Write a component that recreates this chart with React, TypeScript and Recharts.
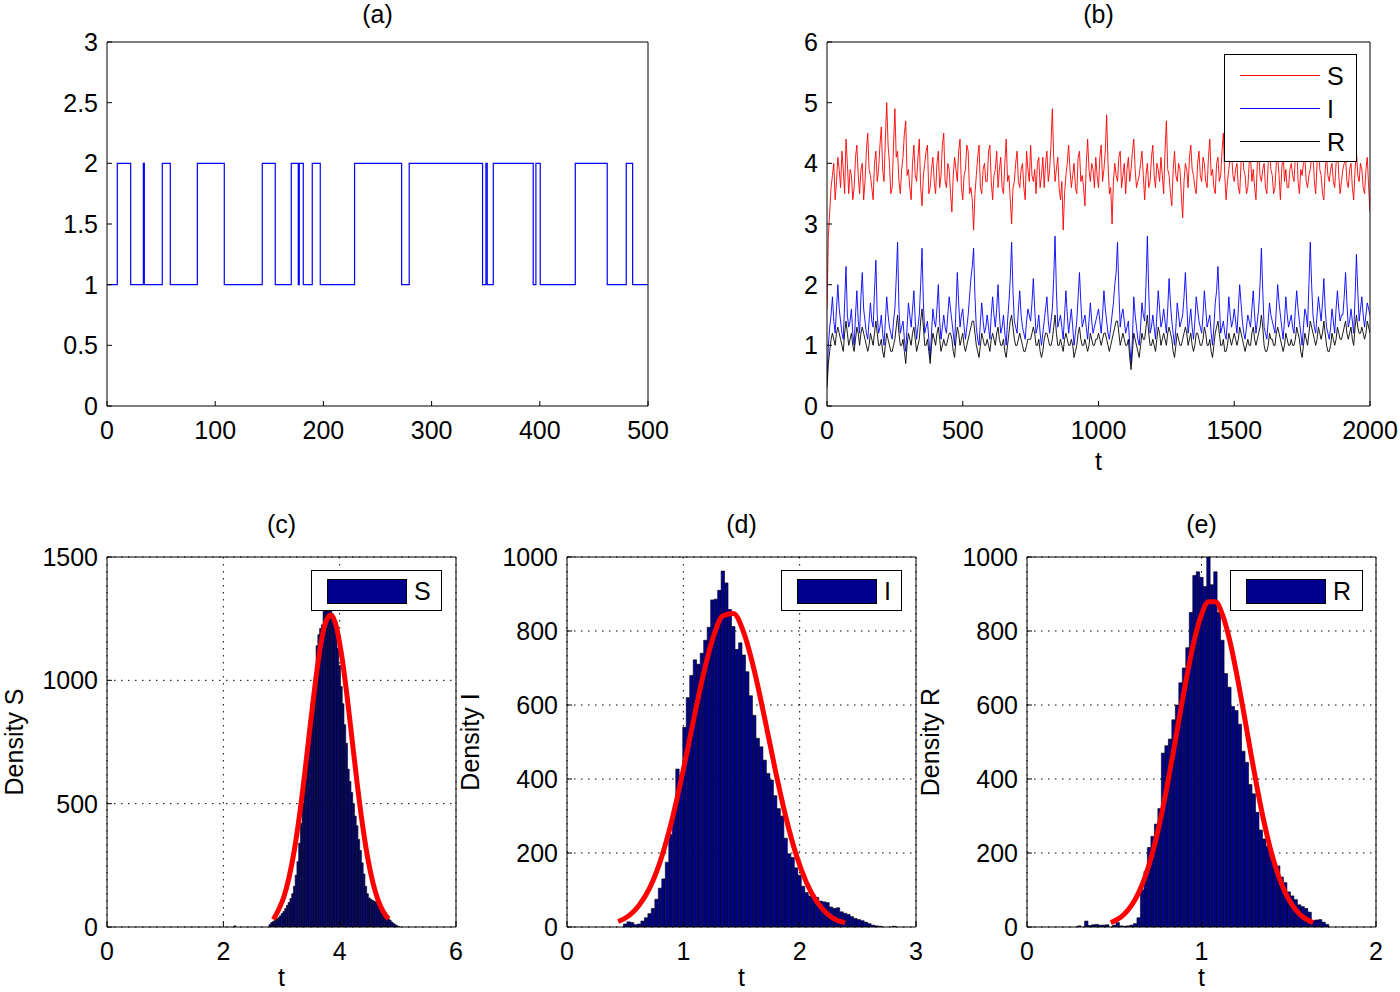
import React from 'react';
import { ComposedChart, LineChart, Line, Bar, XAxis, YAxis, CartesianGrid, Legend } from 'recharts';

const FONT = '"Liberation Sans", Arial, Helvetica, sans-serif';
const RED = '#ff0000';
const BLUE = '#0000ff';
const HIST_FILL = '#00008f';

// (a) regime switching path
const switchTimes = [0, 9.5, 21.9, 33.6, 34.5, 51.1, 58.5, 83.5, 108.4, 143.5, 155.5, 170.3, 176.8, 177.7, 181.4, 189.7,
  197.1, 228.8, 272.3, 279.3, 347.1, 350.2, 351.4, 357.0, 393.9, 396.4, 400.4, 432.8, 462.3, 479.9, 485.8, 500];
const switchStates = [1, 2, 1, 2, 1, 2, 1, 2, 1, 2, 1, 2, 1, 2, 1, 2, 1, 2, 1, 2, 1, 2, 1, 2, 1, 2, 1, 2, 1, 2, 1, 1];
const switchXTicks = [0, 100, 200, 300, 400, 500];
const switchYTicks = [0, 0.5, 1, 1.5, 2, 2.5, 3];

// (b) S, I, R: values at t = 0, 10, ..., 2000 and in-between values at t = 5, 15, ..., 1995
const simStep = 10;
const sPath = [
  1.6, 3.2, 3.8, 3.4, 4.1, 3.6, 3.9, 4.4, 3.5, 3.8, 3.6, 4.3, 3.5, 4.0, 3.7, 4.5, 3.8, 3.4, 4.2, 3.9,
  4.6, 3.7, 5.0, 4.0, 3.6, 4.9, 4.2, 3.5, 4.1, 4.7, 3.9, 3.4, 4.3, 3.7, 4.4, 3.3, 4.0, 4.3, 3.6, 4.1,
  3.5, 4.2, 3.8, 4.5, 3.6, 3.9, 3.2, 4.1, 3.7, 4.4, 3.4, 3.9, 4.2, 3.6, 2.9, 3.8, 4.3, 3.5, 4.0, 3.7,
  4.3, 3.4, 3.9, 3.6, 4.1, 3.5, 4.4, 3.8, 3.0, 3.7, 4.2, 3.6, 4.0, 3.4, 3.9, 4.3, 3.7, 3.5, 4.1, 3.8,
  3.6, 4.2, 3.9, 4.9, 3.7, 4.1, 3.4, 2.9, 3.8, 4.3, 3.6, 4.0, 3.5, 4.2, 3.8, 3.3, 4.4, 3.7, 3.9, 4.1,
  3.6, 4.3, 3.9, 4.8, 3.5, 3.0, 4.0, 3.7, 4.2, 3.8, 3.5, 4.1, 3.9, 4.4, 3.6, 3.8, 4.2, 3.4, 4.0, 3.7,
  4.3, 3.6, 3.9, 4.1, 3.5, 4.7, 3.8, 3.3, 4.2, 3.7, 3.9, 3.1, 4.0, 3.6, 4.3, 3.8, 3.5, 4.2, 3.7, 4.0,
  3.6, 4.4, 3.9, 3.5, 4.1, 3.8, 4.5, 3.4, 3.9, 4.2, 3.7, 4.0, 3.5, 4.3, 3.8, 3.6, 4.1, 3.9, 3.4, 4.2,
  3.7, 4.0, 3.5, 4.3, 3.8, 3.6, 4.1, 3.4, 4.2, 3.9, 3.6, 4.0, 3.7, 4.4, 3.5, 3.8, 4.1, 3.6, 3.9, 4.2,
  3.5, 4.6, 3.8, 3.4, 4.1, 3.7, 4.0, 3.6, 4.3, 3.5, 3.9, 4.1, 3.6, 4.0, 3.4, 4.2, 3.7, 3.9, 3.5, 4.1,
  3.2,
];
const sMid = [
  2.8, 3.6, 4.0, 3.7, 3.9, 4.2, 3.5, 4.0, 3.9, 3.4, 4.1, 3.8, 3.9, 3.4, 4.2, 3.9, 3.6, 4.0, 3.7, 4.3,
  3.9, 4.4, 4.3, 3.5, 4.3, 4.1, 3.7, 3.9, 4.5, 3.8, 3.6, 4.0, 3.8, 4.1, 3.6, 3.8, 4.2, 3.5, 3.9, 3.7,
  4.0, 3.6, 4.3, 3.7, 4.0, 3.5, 3.8, 3.9, 4.2, 3.6, 3.8, 4.3, 3.5, 3.4, 3.5, 4.1, 3.6, 3.9, 3.7, 4.2,
  3.7, 3.8, 4.2, 3.9, 3.6, 4.0, 3.7, 3.4, 3.6, 4.0, 3.7, 3.9, 3.6, 4.2, 3.7, 3.8, 3.9, 4.0, 3.6, 4.1,
  4.0, 3.7, 4.3, 4.1, 3.9, 3.6, 3.7, 3.5, 4.0, 3.9, 3.8, 3.6, 4.1, 3.7, 3.6, 4.0, 3.9, 4.0, 3.6, 3.8,
  4.1, 3.7, 4.2, 4.0, 3.6, 3.7, 3.8, 4.1, 3.6, 4.0, 3.9, 3.7, 4.2, 3.9, 3.7, 4.0, 3.8, 3.8, 3.6, 4.1,
  3.8, 4.0, 3.7, 3.8, 4.2, 3.9, 3.5, 3.9, 3.8, 4.0, 3.5, 3.7, 3.9, 4.1, 3.9, 3.6, 4.0, 3.8, 4.1, 3.7,
  4.1, 3.8, 3.6, 4.0, 3.7, 4.2, 3.8, 3.7, 4.1, 3.8, 3.9, 3.6, 4.0, 3.9, 3.5, 4.0, 3.7, 3.6, 4.0, 3.8,
  3.9, 3.6, 4.0, 3.9, 3.5, 4.0, 3.8, 3.9, 3.7, 3.6, 3.9, 3.8, 4.1, 3.7, 3.9, 4.0, 3.7, 3.8, 4.1, 3.7,
  4.0, 3.9, 3.5, 3.9, 3.8, 3.9, 3.7, 4.0, 3.8, 3.7, 4.0, 3.7, 3.9, 3.6, 3.9, 3.8, 4.0, 3.6, 3.9, 3.6,
];
const iPath = [
  0.4, 1.3, 1.8, 1.2, 2.0, 1.4, 1.1, 2.3, 1.3, 1.6, 1.0, 1.9, 1.2, 2.2, 1.4, 1.1, 1.7, 1.3, 2.4, 1.2,
  1.5, 1.0, 1.8, 1.3, 1.1, 1.6, 2.7, 1.2, 1.4, 0.9, 1.7, 1.3, 1.9, 1.1, 1.5, 2.6, 1.2, 1.4, 0.8, 1.6,
  1.3, 2.0, 1.1, 1.5, 1.2, 1.8, 1.4, 1.0, 2.2, 1.3, 1.6, 1.1, 1.5, 2.1, 2.6, 1.3, 1.0, 1.7, 1.2, 1.5,
  1.1, 1.8, 1.3, 2.0, 1.2, 1.5, 1.0, 1.7, 2.7, 1.4, 1.2, 1.9, 1.3, 1.1, 1.6, 1.4, 2.1, 1.2, 1.5, 1.0,
  1.4, 1.8, 1.2, 1.6, 2.8, 1.3, 1.5, 1.1, 1.9, 1.2, 1.6, 1.0, 1.4, 2.2, 1.3, 1.5, 1.1, 1.7, 1.2, 1.4,
  1.6, 1.2, 1.9, 1.4, 1.1, 1.5, 2.0, 2.7, 1.3, 1.6, 1.2, 1.4, 0.7, 1.8, 1.3, 1.0, 1.7, 1.4, 2.8, 1.2,
  1.5, 1.1, 1.9, 1.3, 1.6, 1.2, 2.1, 1.4, 1.0, 1.7, 1.3, 1.5, 2.2, 1.2, 1.6, 1.1, 1.8, 1.4, 1.2, 1.9,
  1.3, 1.5, 1.0, 1.7, 2.3, 1.2, 1.4, 1.1, 1.8, 1.3, 1.6, 1.2, 2.0, 1.4, 1.1, 1.5, 1.3, 1.9, 1.2, 1.6,
  2.6, 1.3, 1.1, 1.7, 1.4, 1.2, 2.0, 1.5, 1.1, 1.8, 1.3, 1.5, 1.2, 1.9, 1.4, 1.0, 1.6, 1.3, 2.7, 1.5,
  1.2, 1.8, 1.4, 2.1, 1.3, 1.1, 1.6, 1.2, 1.9, 1.4, 1.5, 2.2, 1.3, 1.6, 1.2, 2.5, 1.4, 1.8, 1.3, 1.7,
  1.5,
];
const iMid = [
  1.0, 1.5, 1.4, 1.6, 1.6, 1.2, 1.7, 1.5, 1.4, 1.2, 1.5, 1.4, 1.8, 1.6, 1.2, 1.4, 1.4, 1.9, 1.5, 1.3,
  1.2, 1.4, 1.5, 1.2, 1.4, 2.1, 1.6, 1.3, 1.1, 1.3, 1.5, 1.6, 1.4, 1.3, 2.0, 1.7, 1.3, 1.1, 1.2, 1.4,
  1.6, 1.4, 1.3, 1.3, 1.5, 1.6, 1.2, 1.6, 1.7, 1.5, 1.3, 1.3, 1.8, 2.3, 1.8, 1.1, 1.4, 1.4, 1.3, 1.3,
  1.5, 1.5, 1.6, 1.5, 1.3, 1.2, 1.4, 2.1, 1.9, 1.3, 1.6, 1.5, 1.2, 1.4, 1.5, 1.7, 1.6, 1.3, 1.2, 1.2,
  1.6, 1.4, 1.4, 2.1, 1.9, 1.4, 1.3, 1.5, 1.5, 1.4, 1.3, 1.2, 1.8, 1.7, 1.4, 1.3, 1.4, 1.4, 1.3, 1.5,
  1.4, 1.5, 1.6, 1.2, 1.3, 1.7, 2.2, 1.9, 1.5, 1.4, 1.3, 1.0, 1.1, 1.5, 1.1, 1.3, 1.5, 2.0, 1.9, 1.3,
  1.3, 1.5, 1.6, 1.4, 1.4, 1.6, 1.7, 1.2, 1.3, 1.5, 1.4, 1.8, 1.7, 1.4, 1.3, 1.4, 1.6, 1.3, 1.5, 1.6,
  1.4, 1.2, 1.3, 1.9, 1.7, 1.3, 1.2, 1.4, 1.5, 1.4, 1.4, 1.6, 1.7, 1.2, 1.3, 1.4, 1.6, 1.5, 1.4, 2.0,
  1.9, 1.2, 1.4, 1.5, 1.3, 1.6, 1.7, 1.3, 1.4, 1.5, 1.4, 1.3, 1.6, 1.6, 1.2, 1.3, 1.5, 2.0, 2.0, 1.3,
  1.5, 1.6, 1.7, 1.6, 1.2, 1.3, 1.4, 1.6, 1.6, 1.5, 1.8, 1.7, 1.4, 1.4, 1.8, 1.9, 1.6, 1.5, 1.5, 1.6,
];
const rPath = [
  0.3, 0.9, 1.2, 1.0, 1.3, 1.1, 0.9, 1.4, 1.0, 1.2, 0.9, 1.3, 1.0, 1.3, 1.1, 0.9, 1.2, 1.0, 1.4, 1.0,
  1.1, 0.8, 1.2, 1.0, 0.9, 1.1, 1.5, 1.0, 1.1, 0.7, 1.2, 1.0, 1.3, 0.9, 1.1, 1.6, 1.0, 1.1, 0.7, 1.2,
  1.0, 1.3, 0.9, 1.1, 1.0, 1.2, 1.1, 0.8, 1.3, 1.0, 1.2, 0.9, 1.1, 1.3, 1.4, 1.0, 0.8, 1.2, 1.0, 1.1,
  0.9, 1.2, 1.0, 1.3, 1.0, 1.1, 0.8, 1.2, 1.5, 1.1, 1.0, 1.2, 1.0, 0.9, 1.1, 1.1, 1.3, 1.0, 1.1, 0.8,
  1.1, 1.2, 1.0, 1.1, 1.5, 1.0, 1.1, 0.9, 1.2, 1.0, 1.1, 0.8, 1.0, 1.3, 1.0, 1.1, 0.9, 1.2, 1.0, 1.1,
  1.2, 1.0, 1.2, 1.1, 0.9, 1.1, 1.3, 1.4, 1.0, 1.2, 1.0, 1.1, 0.6, 1.2, 1.0, 0.8, 1.2, 1.1, 1.5, 1.0,
  1.1, 0.9, 1.3, 1.0, 1.2, 1.0, 1.3, 1.1, 0.8, 1.2, 1.0, 1.1, 1.3, 1.0, 1.2, 0.9, 1.2, 1.1, 1.0, 1.3,
  1.0, 1.1, 0.8, 1.2, 1.4, 1.0, 1.1, 0.9, 1.2, 1.0, 1.2, 1.0, 1.3, 1.1, 0.9, 1.1, 1.0, 1.3, 1.0, 1.2,
  1.5, 1.0, 0.9, 1.2, 1.1, 1.0, 1.3, 1.1, 0.9, 1.2, 1.0, 1.1, 1.0, 1.3, 1.1, 0.8, 1.2, 1.0, 1.4, 1.2,
  1.0, 1.3, 1.1, 1.4, 1.0, 0.9, 1.2, 1.0, 1.3, 1.1, 1.2, 1.4, 1.1, 1.3, 1.0, 1.5, 1.2, 1.3, 1.1, 1.4,
  1.2,
];
const rMid = [
  0.7, 1.1, 1.1, 1.2, 1.2, 1.0, 1.2, 1.2, 1.1, 1.0, 1.1, 1.2, 1.2, 1.2, 1.0, 1.0, 1.1, 1.2, 1.2, 1.0,
  0.9, 1.0, 1.1, 0.9, 1.0, 1.3, 1.2, 1.0, 0.9, 1.0, 1.1, 1.2, 1.1, 1.0, 1.4, 1.3, 1.0, 0.9, 1.0, 1.1,
  1.2, 1.1, 1.0, 1.0, 1.1, 1.2, 0.9, 1.1, 1.2, 1.1, 1.0, 1.0, 1.2, 1.4, 1.2, 0.9, 1.0, 1.1, 1.0, 1.0,
  1.1, 1.1, 1.2, 1.1, 1.0, 0.9, 1.0, 1.4, 1.3, 1.0, 1.1, 1.1, 0.9, 1.0, 1.1, 1.2, 1.2, 1.0, 0.9, 0.9,
  1.2, 1.1, 1.0, 1.3, 1.2, 1.0, 1.0, 1.1, 1.1, 1.0, 1.0, 0.9, 1.2, 1.1, 1.0, 1.0, 1.0, 1.1, 1.0, 1.1,
  1.1, 1.1, 1.2, 1.0, 1.0, 1.2, 1.4, 1.2, 1.1, 1.1, 1.0, 0.8, 0.9, 1.1, 0.9, 1.0, 1.1, 1.3, 1.2, 1.0,
  1.0, 1.1, 1.2, 1.1, 1.1, 1.2, 1.2, 0.9, 1.0, 1.1, 1.0, 1.2, 1.2, 1.1, 1.0, 1.0, 1.2, 1.0, 1.1, 1.2,
  1.0, 0.9, 1.0, 1.3, 1.2, 1.0, 0.9, 1.0, 1.1, 1.1, 1.1, 1.1, 1.2, 1.0, 1.0, 1.0, 1.2, 1.1, 1.1, 1.3,
  1.3, 0.9, 1.0, 1.1, 1.0, 1.2, 1.2, 1.0, 1.0, 1.1, 1.0, 1.0, 1.1, 1.2, 0.9, 1.0, 1.1, 1.2, 1.3, 1.1,
  1.1, 1.2, 1.2, 1.2, 0.9, 1.0, 1.1, 1.1, 1.2, 1.1, 1.3, 1.2, 1.2, 1.1, 1.3, 1.3, 1.2, 1.2, 1.2, 1.3,
];
const simXTicks = [0, 500, 1000, 1500, 2000];
const simYTicks = [0, 1, 2, 3, 4, 5, 6];
const simLegend = [
  { name: 'S', color: RED },
  { name: 'I', color: BLUE },
  { name: 'R', color: '#000000' },
];

// (c) histogram of S with fitted density
const sBinStart = 2.2;
const sBinWidth = 0.03;
const sCounts = [
  5, 0, 0, 0, 0, 0, 0, 0, 0, 0, 0, 0, 0, 0, 0, 0, 0, 0, 0, 0,
  10, 18, 22, 28, 33, 38, 45, 55, 63, 75, 88, 100, 115, 135, 165, 210, 265, 340, 420, 500,
  600, 700, 790, 840, 910, 965, 1020, 1140, 1185, 1210, 1225, 1280, 1290, 1305, 1295, 1285, 1270, 1255, 1240, 1130,
  1060, 975, 905, 820, 745, 640, 590, 545, 500, 450, 410, 355, 310, 260, 215, 165, 135, 118, 112, 108,
  104, 100, 96, 80, 65, 57, 48, 40, 33, 28, 20, 14, 9, 5, 2,
];
const sFitX = [2.86, 2.95, 3.04, 3.13, 3.22, 3.31, 3.4, 3.49, 3.58, 3.67, 3.76, 3.85, 3.94, 4.03, 4.12, 4.21, 4.3,
  4.39, 4.48, 4.57, 4.66, 4.75, 4.84];
const sFitY = [30, 70, 122, 201, 311, 454, 624, 809, 988, 1139, 1236, 1265, 1220, 1108, 950, 767, 584, 419, 283, 181,
  109, 62, 33];

// (d) histogram of I
const iBinStart = 0.44;
const iBinWidth = 0.03;
const iCounts = [
  0, 0, 8, 14, 12, 6, 8, 16, 25, 36, 50, 75, 105, 130, 175, 250, 310, 427, 410, 540,
  620, 680, 722, 710, 740, 775, 810, 884, 886, 910, 962, 930, 858, 812, 750, 768, 735, 690, 625, 572,
  510, 487, 451, 415, 397, 355, 320, 300, 240, 198, 188, 160, 140, 110, 93, 84, 86, 80, 70, 68,
  66, 54, 50, 52, 41, 37, 34, 28, 23, 20, 17, 13, 9, 5, 3, 2, 0, 0, 0, 2,
];
const iFitX = [0.44, 0.53, 0.62, 0.71, 0.8, 0.89, 0.98, 1.07, 1.16, 1.25, 1.34, 1.43, 1.52, 1.61, 1.7, 1.79, 1.88,
  1.97, 2.06, 2.15, 2.24, 2.33, 2.39];
const iFitY = [15, 30, 59, 105, 176, 274, 396, 532, 666, 776, 841, 847, 795, 693, 563, 425, 299, 195, 119, 67, 35, 17, 12];

// (e) histogram of R
const rBinStart = 0.3;
const rBinWidth = 0.02;
const rCounts = [
  3, 0, 16, 4, 6, 7, 5, 5, 6, 0, 5, 12, 3, 2, 3, 5, 9, 25,
  100, 150, 215, 245, 278, 320, 470, 490, 508, 560, 600, 660, 700, 755, 850, 950, 960, 945, 920, 1000,
  925, 960, 850, 775, 685, 648, 596, 585, 548, 475, 445, 385, 360, 310, 262, 238, 218, 195, 160, 165,
  135, 120, 95, 84, 74, 60, 55, 50, 40, 17, 19, 20, 13, 7,
];
const rFitX = [0.48, 0.52, 0.56, 0.6, 0.64, 0.68, 0.72, 0.76, 0.8, 0.84, 0.88, 0.92, 0.96, 1.0, 1.04, 1.08, 1.12,
  1.16, 1.2, 1.24, 1.28, 1.32, 1.36, 1.4, 1.44, 1.48, 1.52, 1.56, 1.6, 1.64];
const rFitY = [12, 21, 36, 59, 93, 140, 202, 280, 373, 477, 585, 688, 778, 844, 879, 879, 844, 778, 688, 585, 477,
  373, 280, 202, 140, 93, 59, 36, 21, 12];

const densityYTicks = [0, 200, 400, 600, 800, 1000];

const switchData = switchTimes.map((t, i) => ({ t, s: switchStates[i] }));

const simData: { t: number; S: number; I: number; R: number }[] = [];
sPath.forEach((s, i) => {
  simData.push({ t: i * simStep, S: s, I: iPath[i], R: rPath[i] });
  if (i < sMid.length) simData.push({ t: i * simStep + simStep / 2, S: sMid[i], I: iMid[i], R: rMid[i] });
});

const buildHist = (start: number, width: number, counts: number[], fitX: number[], fitY: number[]) => {
  const rows = counts.map((c, k) => ({ x: start + width * k, count: c > 0 ? c : null, fit: null as number | null }));
  fitX.forEach((fx, i) => {
    const row = rows.find((r) => Math.abs(r.x - fx) < 1e-6);
    if (row) row.fit = fitY[i];
  });
  return rows;
};

const sHist = buildHist(sBinStart, sBinWidth, sCounts, sFitX, sFitY);
const iHist = buildHist(iBinStart, iBinWidth, iCounts, iFitX, iFitY);
const rHist = buildHist(rBinStart, rBinWidth, rCounts, rFitX, rFitY);

// layout: plot rectangles in page pixels
type Box = { L: number; T: number; R: number; B: number };
const Y_AXIS_W = 100;
const X_AXIS_H = 70;
const EDGE = 10;
const M_TOP = 10;
const M_RIGHT = 30;
const CHART_MARGIN = { top: M_TOP, right: M_RIGHT, bottom: 0, left: 0 };

const frame = (b: Box) => ({
  left: b.L - Y_AXIS_W,
  top: b.T - EDGE - M_TOP,
  width: b.R - b.L + Y_AXIS_W + EDGE + M_RIGHT,
  height: b.B - b.T + EDGE + M_TOP + X_AXIS_H,
});

const boxA: Box = { L: 107, T: 42, R: 648, B: 406 };
const boxB: Box = { L: 827, T: 42, R: 1370, B: 406 };
const boxC: Box = { L: 107, T: 557, R: 456, B: 927 };
const boxD: Box = { L: 567, T: 557, R: 916, B: 927 };
const boxE: Box = { L: 1027, T: 557, R: 1376, B: 927 };

const tickStyle = { fill: '#000', fontSize: 25 };
const lineStyle = { stroke: '#000', strokeWidth: 1 };

// MATLAB-style box: inward ticks on all four sides
const boxAxes = (xKey: string, xDomain: number[], xTicks: number[], yDomain: number[], yTicks: number[]) => [
  <XAxis key="xb" dataKey={xKey} type="number" domain={xDomain} ticks={xTicks} interval={0} height={X_AXIS_H}
    tick={tickStyle} tickSize={-5} tickMargin={20} axisLine={lineStyle} tickLine={lineStyle} allowDataOverflow />,
  <XAxis key="xt" xAxisId="top" orientation="top" dataKey={xKey} type="number" domain={xDomain} ticks={xTicks}
    interval={0} height={EDGE} tick={false} tickSize={-5} axisLine={lineStyle} tickLine={lineStyle} allowDataOverflow />,
  <YAxis key="yl" type="number" domain={yDomain} ticks={yTicks} interval={0} width={Y_AXIS_W} tick={tickStyle}
    tickSize={-5} tickMargin={14} axisLine={lineStyle} tickLine={lineStyle} allowDataOverflow />,
  <YAxis key="yr" yAxisId="right" orientation="right" type="number" domain={yDomain} ticks={yTicks} interval={0}
    width={EDGE} tick={false} tickSize={-5} axisLine={lineStyle} tickLine={lineStyle} allowDataOverflow />,
];

const HistLegend = ({ label, width }: { label: string; width: number }) => (
  <div style={{ position: 'relative', width, height: 41, border: '1px solid #000', background: '#fff', boxSizing: 'border-box' }}>
    <div style={{ position: 'absolute', left: 15, top: 8, width: 80, height: 25, background: HIST_FILL, border: '1px solid #000', boxSizing: 'border-box' }} />
    <span style={{ position: 'absolute', left: 102, top: 6, fontSize: 25, lineHeight: '28px', color: '#000' }}>{label}</span>
  </div>
);

const SimLegend = () => (
  <div style={{ position: 'relative', width: 133, height: 108, border: '1px solid #000', background: '#fff', boxSizing: 'border-box' }}>
    {simLegend.map((item, i) => (
      <React.Fragment key={item.name}>
        <div style={{ position: 'absolute', left: 15, top: 20 + i * 33, width: 80, height: 1, background: item.color }} />
        <span style={{ position: 'absolute', left: 102, top: 7 + i * 33, fontSize: 25, lineHeight: '28px', color: '#000' }}>{item.name}</span>
      </React.Fragment>
    ))}
  </div>
);

const legendProps = { layout: 'vertical' as const, align: 'center' as const, verticalAlign: 'middle' as const };

const HistPanel = ({ box, data, xDomain, xTicks, yDomain, yTicks, barSize, label, legendLeft, legendWidth }: any) => {
  const f = frame(box);
  return (
    <div style={{ position: 'absolute', left: f.left, top: f.top }}>
      <ComposedChart width={f.width} height={f.height} data={data} margin={CHART_MARGIN}>
        <CartesianGrid stroke="#000" strokeDasharray="1.5 5.5" strokeWidth={1} />
        {boxAxes('x', xDomain, xTicks, yDomain, yTicks)}
        <Bar dataKey="count" barSize={barSize} fill={HIST_FILL} stroke="#000" strokeWidth={0.6} isAnimationActive={false} />
        <Line type="monotone" dataKey="fit" stroke={RED} strokeWidth={5} dot={false} connectNulls isAnimationActive={false} />
        <Legend {...legendProps} wrapperStyle={{ left: legendLeft, top: 33, width: legendWidth }}
          content={() => <HistLegend label={label} width={legendWidth} />} />
      </ComposedChart>
    </div>
  );
};

export default function App() {
  const fa = frame(boxA);
  const fb = frame(boxB);
  return (
    <div style={{ position: 'absolute', left: 0, top: 0, width: 1400, height: 992, overflow: 'hidden', background: '#fff', fontFamily: FONT }}>
      <div style={{ position: 'absolute', left: fa.left, top: fa.top }}>
        <LineChart width={fa.width} height={fa.height} data={switchData} margin={CHART_MARGIN}>
          {boxAxes('t', [0, 500], switchXTicks, [0, 3], switchYTicks)}
          <Line type="stepAfter" dataKey="s" stroke={BLUE} strokeWidth={1.2} dot={false} isAnimationActive={false} />
        </LineChart>
      </div>

      <div style={{ position: 'absolute', left: fb.left, top: fb.top }}>
        <LineChart width={fb.width} height={fb.height} data={simData} margin={CHART_MARGIN}>
          {boxAxes('t', [0, 2000], simXTicks, [0, 6], simYTicks)}
          <Line type="linear" dataKey="S" stroke={RED} strokeWidth={0.9} dot={false} isAnimationActive={false} />
          <Line type="linear" dataKey="I" stroke={BLUE} strokeWidth={0.9} dot={false} isAnimationActive={false} />
          <Line type="linear" dataKey="R" stroke="#000" strokeWidth={0.9} dot={false} isAnimationActive={false} />
          <Legend {...legendProps} wrapperStyle={{ left: 497, top: 32, width: 133 }} content={() => <SimLegend />} />
        </LineChart>
      </div>

      <HistPanel box={boxC} data={sHist} xDomain={[0, 6]} xTicks={[0, 2, 4, 6]} yDomain={[0, 1500]}
        yTicks={[0, 500, 1000, 1500]} barSize={1.7} label="S" legendLeft={304} legendWidth={131} />
      <HistPanel box={boxD} data={iHist} xDomain={[0, 3]} xTicks={[0, 1, 2, 3]} yDomain={[0, 1000]}
        yTicks={densityYTicks} barSize={3.4} label="I" legendLeft={314} legendWidth={121} />
      <HistPanel box={boxE} data={rHist} xDomain={[0, 2]} xTicks={[0, 1, 2]} yDomain={[0, 1000]}
        yTicks={densityYTicks} barSize={3.4} label="R" legendLeft={303} legendWidth={133} />

      <svg width={1400} height={992} style={{ position: 'absolute', left: 0, top: 0, pointerEvents: 'none' }}
        fontFamily={FONT} fontSize={25} fill="#000">
        <text x={377.5} y={23} textAnchor="middle">(a)</text>
        <text x={1098.5} y={23} textAnchor="middle">(b)</text>
        <text x={281.5} y={533} textAnchor="middle">(c)</text>
        <text x={741.5} y={533} textAnchor="middle">(d)</text>
        <text x={1201.5} y={533} textAnchor="middle">(e)</text>
        <text x={1098.5} y={470} textAnchor="middle">t</text>
        <text x={281.5} y={986} textAnchor="middle">t</text>
        <text x={741.5} y={986} textAnchor="middle">t</text>
        <text x={1201.5} y={986} textAnchor="middle">t</text>
        <text x={23} y={742} textAnchor="middle" transform="rotate(-90 23 742)">Density S</text>
        <text x={479} y={742} textAnchor="middle" transform="rotate(-90 479 742)">Density I</text>
        <text x={939} y={742} textAnchor="middle" transform="rotate(-90 939 742)">Density R</text>
      </svg>
    </div>
  );
}
